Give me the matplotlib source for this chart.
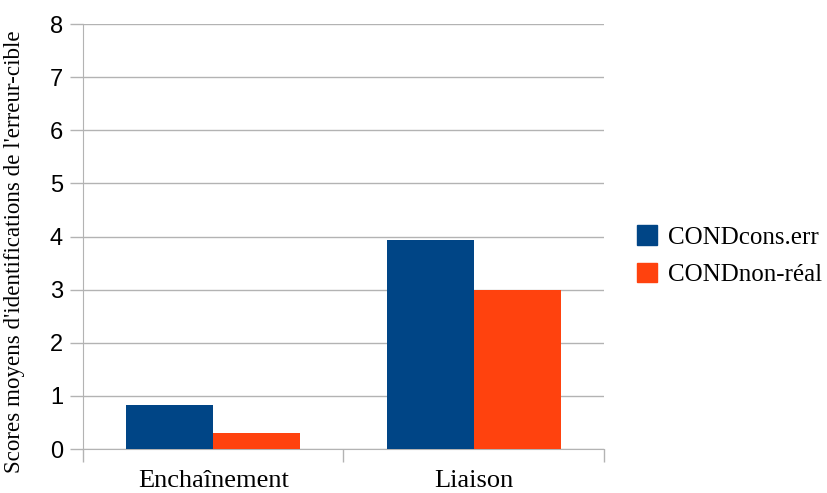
import numpy as np
import matplotlib
matplotlib.use('Agg')
import matplotlib.pyplot as plt
from matplotlib.patches import Patch

# ===== 数据 =====
categories = ["Enchaînement", "Liaison"]
series_names = ["CONDcons.err", "CONDnon-réal"]
cons_err = [0.83, 3.94]
non_real = [0.30, 3.00]
colors = ["#004586", "#ff420e"]

serif = ["Liberation Serif", "DejaVu Serif"]
sans = ["Liberation Sans", "DejaVu Sans"]

fig = plt.figure(figsize=(8.27, 4.93), dpi=100)
ax = fig.add_axes([0.1004, 0.0892, 0.6299, 0.8621])

x = np.arange(len(categories))
w = 1 / 3
ax.bar(x - w / 2, cons_err, width=w, color=colors[0], zorder=3)
ax.bar(x + w / 2, non_real, width=w, color=colors[1], zorder=3)

ax.set_xlim(-0.5, len(categories) - 0.5)
ax.set_ylim(0, 8)
ax.set_yticks(range(0, 9))
ax.yaxis.grid(True, color="#b3b3b3", linewidth=1, zorder=0)

# 轴与刻度
for s in ["top", "right"]:
    ax.spines[s].set_visible(False)
for s in ["left", "bottom"]:
    ax.spines[s].set_color("#b3b3b3")
ax.set_xticks(np.arange(-0.5, len(categories), 1), minor=False)
ax.set_xticklabels([])
ax.set_xticks(x, minor=True)
ax.set_xticklabels(categories, minor=True, fontfamily=serif, fontsize=19)
ax.tick_params(axis="x", which="major", length=9.5, color="#b3b3b3", width=1)
ax.tick_params(axis="x", which="minor", length=0, pad=15)
ax.tick_params(axis="y", length=9.5, color="#b3b3b3", width=1, pad=5)
for lab in ax.get_yticklabels():
    lab.set_fontfamily(sans)
    lab.set_fontsize(17)

ax.set_ylabel("Scores moyens d'identifications de l'erreur-cible",
              fontfamily=serif, fontsize=16.6)
ax.yaxis.set_label_coords(-0.111, 0.4635)

handles = [Patch(color=c) for c in colors]
fig.legend(handles, series_names, loc="center left",
           bbox_to_anchor=(637 / 827, 0.481), frameon=False,
           borderaxespad=0, borderpad=0,
           prop={"family": serif, "size": 18},
           handlelength=0.8, handleheight=0.8, handletextpad=0.45,
           labelspacing=0.57)

fig.savefig("out.png", dpi=100)
